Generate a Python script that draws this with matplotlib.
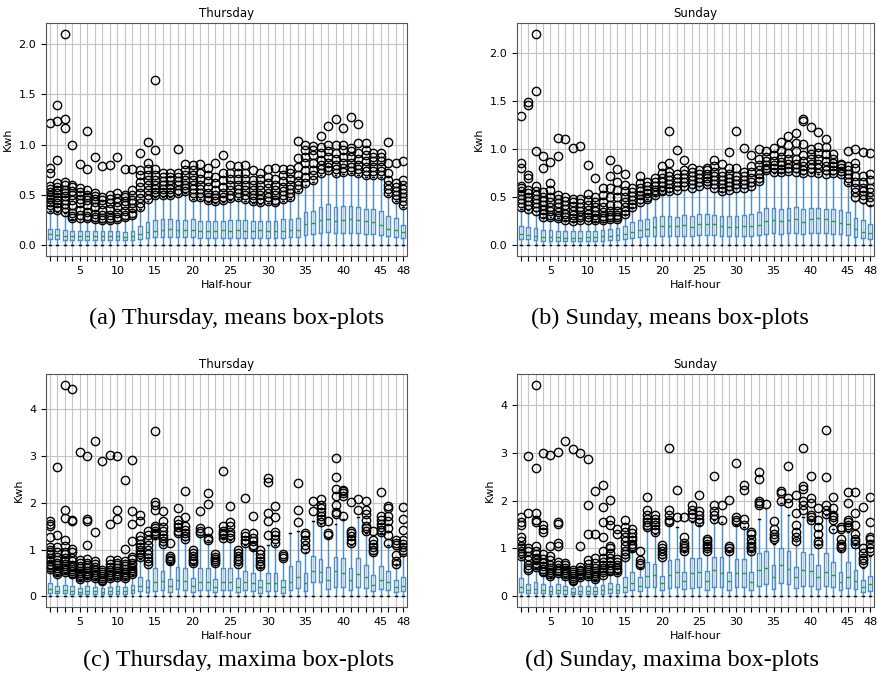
import matplotlib.pyplot as plt

hours = list(range(1, 49))
labeled_hours = [5, 10, 15, 20, 25, 30, 35, 40, 45, 48]

# (a) Thursday, means
a_q1 = [0.06,0.06,0.05,0.05,0.05,0.05,0.05,0.05,0.05,0.05,0.05,0.05,0.06,0.07,0.08,0.08,
        0.08,0.08,0.08,0.08,0.07,0.07,0.07,0.07,0.07,0.07,0.07,0.07,0.07,0.07,0.07,0.07,
        0.08,0.08,0.10,0.11,0.12,0.13,0.12,0.12,0.12,0.12,0.11,0.11,0.10,0.09,0.08,0.07]
a_med = [0.11,0.10,0.09,0.09,0.09,0.09,0.09,0.09,0.09,0.09,0.08,0.09,0.11,0.13,0.14,0.15,
         0.16,0.15,0.15,0.15,0.14,0.14,0.14,0.15,0.14,0.15,0.14,0.14,0.15,0.14,0.14,0.14,
         0.15,0.15,0.21,0.22,0.25,0.26,0.24,0.25,0.26,0.25,0.24,0.23,0.20,0.16,0.15,0.13]
a_q3 = [0.16,0.16,0.15,0.14,0.14,0.14,0.14,0.14,0.14,0.14,0.13,0.14,0.19,0.23,0.25,0.26,
        0.26,0.25,0.25,0.26,0.24,0.24,0.24,0.24,0.25,0.25,0.25,0.24,0.24,0.24,0.24,0.26,
        0.26,0.27,0.33,0.34,0.38,0.41,0.38,0.39,0.39,0.38,0.36,0.36,0.34,0.29,0.27,0.20]
a_whi = [0.34,0.33,0.32,0.26,0.26,0.25,0.24,0.23,0.23,0.24,0.26,0.28,0.36,0.44,0.48,0.48,
         0.48,0.50,0.52,0.46,0.46,0.43,0.42,0.43,0.45,0.46,0.44,0.42,0.41,0.42,0.41,0.44,
         0.46,0.54,0.60,0.63,0.70,0.74,0.70,0.71,0.72,0.70,0.68,0.68,0.68,0.50,0.44,0.38]
a_fliers = [
    [0.36,0.4,0.43,0.46,0.48,0.5,0.53,0.56,0.59,0.72,0.77,1.21],
    [0.35,0.38,0.42,0.45,0.48,0.52,0.55,0.58,0.62,0.85,1.23,1.39],
    [0.33,0.37,0.41,0.45,0.49,0.52,0.55,0.6,0.63,1.16,1.25,2.1],
    [0.27,0.29,0.32,0.4,0.45,0.5,0.54,0.58,0.6,1.0],
    [0.27,0.3,0.35,0.42,0.46,0.5,0.53,0.57,0.81],
    [0.27,0.29,0.33,0.4,0.45,0.48,0.5,0.55,0.76,1.13],
    [0.26,0.28,0.31,0.38,0.43,0.46,0.49,0.52,0.88],
    [0.25,0.27,0.3,0.35,0.41,0.45,0.48,0.79],
    [0.25,0.27,0.3,0.36,0.42,0.46,0.5,0.8],
    [0.26,0.28,0.32,0.38,0.43,0.47,0.52,0.88],
    [0.28,0.3,0.34,0.4,0.44,0.48,0.5,0.76],
    [0.3,0.32,0.37,0.42,0.45,0.5,0.55,0.76],
    [0.38,0.42,0.47,0.52,0.58,0.63,0.7,0.75,0.92],
    [0.46,0.5,0.55,0.6,0.65,0.7,0.76,0.82,1.03],
    [0.5,0.53,0.56,0.6,0.65,0.7,0.76,0.95,1.64],
    [0.5,0.53,0.56,0.6,0.64,0.68,0.72],
    [0.5,0.53,0.56,0.6,0.65,0.68,0.72],
    [0.52,0.55,0.6,0.64,0.68,0.72,0.96],
    [0.54,0.57,0.6,0.65,0.7,0.75,0.81],
    [0.48,0.52,0.56,0.6,0.65,0.7,0.75,0.8],
    [0.48,0.52,0.56,0.6,0.66,0.72,0.81],
    [0.45,0.48,0.52,0.58,0.64,0.7,0.77],
    [0.44,0.47,0.5,0.55,0.62,0.68,0.82],
    [0.45,0.48,0.52,0.58,0.65,0.72,0.9],
    [0.47,0.5,0.55,0.6,0.66,0.72,0.8],
    [0.48,0.52,0.56,0.6,0.66,0.72,0.79],
    [0.46,0.5,0.55,0.6,0.66,0.72,0.8],
    [0.44,0.47,0.5,0.55,0.6,0.65,0.75],
    [0.43,0.46,0.5,0.55,0.6,0.66,0.72],
    [0.44,0.48,0.52,0.57,0.62,0.68,0.76],
    [0.43,0.45,0.5,0.55,0.6,0.66,0.77],
    [0.46,0.5,0.54,0.58,0.64,0.7,0.76],
    [0.48,0.52,0.56,0.6,0.66,0.72,0.76],
    [0.56,0.6,0.64,0.7,0.78,0.87,1.04],
    [0.62,0.68,0.75,0.82,0.88,0.95,1.0],
    [0.65,0.7,0.75,0.82,0.9,0.95,0.99],
    [0.72,0.76,0.8,0.85,0.92,0.98,1.08],
    [0.75,0.78,0.82,0.88,0.94,1.0,1.18],
    [0.72,0.76,0.8,0.86,0.92,1.0,1.25],
    [0.73,0.77,0.82,0.88,0.95,1.0,1.16],
    [0.74,0.78,0.82,0.88,0.94,0.97,1.27],
    [0.72,0.76,0.8,0.86,0.92,1.02,1.2],
    [0.7,0.74,0.78,0.84,0.9,0.95,1.02],
    [0.7,0.74,0.78,0.84,0.88,0.92],
    [0.7,0.74,0.78,0.84,0.88,0.92],
    [0.52,0.56,0.6,0.65,0.72,0.82,1.03],
    [0.46,0.5,0.54,0.58,0.62,0.82],
    [0.4,0.44,0.48,0.52,0.56,0.6,0.65,0.84],
]

# (b) Sunday, means
b_q1 = [0.07,0.07,0.06,0.05,0.05,0.05,0.05,0.05,0.05,0.05,0.05,0.05,0.06,0.06,0.07,0.08,
        0.09,0.10,0.10,0.10,0.10,0.10,0.10,0.10,0.11,0.11,0.11,0.10,0.10,0.10,0.10,0.10,
        0.11,0.12,0.13,0.12,0.13,0.13,0.12,0.13,0.13,0.13,0.12,0.12,0.11,0.09,0.08,0.07]
b_med = [0.12,0.11,0.10,0.09,0.09,0.09,0.08,0.08,0.08,0.09,0.09,0.10,0.10,0.11,0.12,0.14,
         0.16,0.17,0.19,0.20,0.20,0.20,0.21,0.19,0.22,0.22,0.22,0.20,0.19,0.19,0.20,0.20,
         0.21,0.25,0.26,0.25,0.26,0.27,0.24,0.27,0.28,0.27,0.25,0.23,0.22,0.17,0.14,0.13]
b_q3 = [0.20,0.19,0.18,0.16,0.16,0.15,0.15,0.15,0.15,0.15,0.15,0.16,0.17,0.18,0.20,0.24,
        0.26,0.27,0.29,0.31,0.31,0.30,0.32,0.31,0.33,0.33,0.32,0.31,0.31,0.31,0.32,0.33,
        0.35,0.39,0.39,0.38,0.39,0.40,0.38,0.39,0.39,0.38,0.38,0.37,0.35,0.28,0.26,0.22]
b_whi = [0.38,0.37,0.36,0.30,0.29,0.28,0.26,0.25,0.25,0.25,0.25,0.26,0.27,0.27,0.33,0.40,
         0.44,0.48,0.52,0.56,0.56,0.58,0.62,0.60,0.62,0.63,0.60,0.56,0.58,0.60,0.60,0.62,
         0.66,0.76,0.75,0.76,0.76,0.76,0.74,0.75,0.74,0.74,0.74,0.73,0.64,0.46,0.44,0.42]
b_fliers = [
    [0.4,0.44,0.48,0.52,0.56,0.6,0.62,0.8,0.86,1.34],
    [0.38,0.42,0.46,0.5,0.54,0.58,0.7,0.73,1.46,1.49],
    [0.36,0.4,0.44,0.48,0.52,0.56,0.62,0.98,1.6,2.2],
    [0.3,0.33,0.37,0.42,0.46,0.5,0.55,0.8,0.93],
    [0.29,0.32,0.36,0.4,0.45,0.5,0.58,0.65,0.87],
    [0.28,0.31,0.35,0.4,0.44,0.48,0.52,0.93,1.12],
    [0.26,0.29,0.33,0.38,0.42,0.46,0.5,1.11],
    [0.25,0.28,0.32,0.36,0.41,0.45,0.48,1.01],
    [0.26,0.29,0.32,0.36,0.4,0.44,0.48,1.03],
    [0.26,0.29,0.33,0.37,0.42,0.47,0.53,0.84],
    [0.26,0.28,0.32,0.36,0.4,0.45,0.5,0.7],
    [0.26,0.28,0.31,0.35,0.4,0.45,0.52,0.6],
    [0.27,0.29,0.32,0.36,0.42,0.5,0.6,0.72,0.89],
    [0.27,0.29,0.32,0.36,0.42,0.5,0.58,0.66,0.79],
    [0.33,0.36,0.4,0.45,0.5,0.56,0.63,0.74],
    [0.4,0.43,0.47,0.51,0.55,0.6],
    [0.45,0.48,0.52,0.56,0.6,0.65,0.72],
    [0.48,0.5,0.54,0.58,0.62,0.66],
    [0.52,0.55,0.58,0.62,0.66,0.7],
    [0.56,0.58,0.62,0.66,0.7,0.75,0.82],
    [0.56,0.6,0.64,0.68,0.72,0.76,0.86,1.19],
    [0.58,0.62,0.66,0.7,0.74,0.99],
    [0.62,0.66,0.7,0.74,0.78,0.89],
    [0.6,0.64,0.68,0.72,0.76,0.8],
    [0.62,0.66,0.7,0.74,0.78],
    [0.64,0.67,0.7,0.74,0.78,0.8],
    [0.6,0.64,0.68,0.72,0.76,0.82,0.89],
    [0.56,0.6,0.64,0.68,0.72,0.76,0.85],
    [0.58,0.62,0.66,0.7,0.74,0.8,0.97],
    [0.6,0.64,0.68,0.72,0.8,1.19],
    [0.6,0.64,0.68,0.72,0.76,1.01],
    [0.62,0.66,0.7,0.76,0.82,0.94],
    [0.67,0.7,0.74,0.78,0.84,0.9,1.0],
    [0.78,0.8,0.84,0.88,0.92,0.98],
    [0.76,0.8,0.84,0.88,0.94,1.01],
    [0.76,0.79,0.83,0.87,0.92,0.98,1.07],
    [0.77,0.8,0.85,0.9,0.96,1.04,1.14],
    [0.76,0.8,0.85,0.9,0.98,1.06,1.17],
    [0.75,0.78,0.82,0.88,0.94,1.05,1.29,1.31],
    [0.76,0.8,0.85,0.9,0.95,1.0,1.23],
    [0.75,0.8,0.85,0.9,0.96,1.02,1.18],
    [0.74,0.78,0.82,0.88,0.95,1.02,1.1],
    [0.75,0.78,0.82,0.86,0.9,0.95],
    [0.74,0.77,0.8,0.84,0.85],
    [0.66,0.7,0.74,0.78,0.82,0.98],
    [0.5,0.55,0.6,0.66,0.72,0.8,0.86,1.0],
    [0.48,0.52,0.56,0.6,0.66,0.72,0.97],
    [0.45,0.5,0.55,0.6,0.68,0.74,0.96],
]

# (c) Thursday, maxima
c_q1 = [0.08,0.07,0.07,0.06,0.06,0.06,0.06,0.05,0.06,0.06,0.06,0.07,0.12,0.10,0.12,0.14,
        0.10,0.15,0.14,0.10,0.14,0.14,0.10,0.14,0.14,0.10,0.14,0.12,0.08,0.12,0.12,0.08,
        0.14,0.18,0.12,0.30,0.30,0.16,0.20,0.20,0.14,0.20,0.18,0.12,0.16,0.14,0.10,0.12]
c_med = [0.15,0.12,0.14,0.12,0.10,0.12,0.11,0.09,0.11,0.12,0.11,0.13,0.22,0.20,0.30,0.32,
         0.22,0.35,0.32,0.22,0.30,0.30,0.20,0.30,0.30,0.20,0.30,0.28,0.20,0.28,0.28,0.20,
         0.30,0.42,0.28,0.55,0.52,0.35,0.55,0.50,0.35,0.48,0.42,0.25,0.35,0.30,0.20,0.22]
c_q3 = [0.28,0.22,0.25,0.22,0.18,0.22,0.20,0.17,0.20,0.22,0.20,0.25,0.42,0.35,0.60,0.55,
        0.38,0.62,0.60,0.40,0.60,0.60,0.38,0.60,0.60,0.40,0.55,0.50,0.35,0.50,0.50,0.35,
        0.65,0.75,0.50,0.86,0.80,0.62,0.85,0.82,0.60,0.82,0.68,0.45,0.65,0.55,0.35,0.42]
c_whi = [0.55,0.45,0.50,0.45,0.36,0.40,0.38,0.30,0.38,0.40,0.38,0.46,0.80,0.68,1.25,1.10,
         0.72,1.30,1.20,0.70,1.30,1.20,0.68,1.25,1.20,0.68,1.10,1.00,0.62,1.10,1.10,0.78,
         1.35,1.40,0.95,1.60,1.55,1.25,1.55,1.65,1.10,1.70,1.35,0.90,1.35,1.10,0.70,0.90]
c_fliers = [
    [0.58,0.62,0.66,0.7,0.75,0.82,0.9,0.95,1.0,1.05,1.27,1.5,1.55,1.6],
    [0.48,0.52,0.56,0.6,0.66,0.72,0.78,0.85,0.95,1.05,1.3,2.77],
    [0.52,0.56,0.6,0.65,0.7,0.76,0.82,0.9,0.95,1.08,1.2,1.68,1.85,4.52],
    [0.47,0.5,0.54,0.58,0.62,0.68,0.75,0.82,0.95,1.02,1.6,1.63,4.42],
    [0.38,0.42,0.46,0.5,0.55,0.6,0.65,0.72,0.78,3.09],
    [0.42,0.46,0.5,0.55,0.6,0.66,0.72,0.8,1.1,1.6,1.65,3.0],
    [0.4,0.44,0.48,0.52,0.56,0.62,0.7,0.76,1.38,3.32],
    [0.32,0.36,0.4,0.44,0.48,0.52,0.56,2.9],
    [0.4,0.44,0.48,0.52,0.56,0.62,0.7,0.78,1.54,3.02],
    [0.42,0.46,0.5,0.55,0.6,0.66,0.72,0.78,1.66,1.84,3.0],
    [0.4,0.44,0.48,0.52,0.58,0.64,0.7,0.76,1.02,2.48],
    [0.48,0.52,0.56,0.6,0.66,0.72,0.8,0.85,1.18,1.55,1.82,2.92],
    [0.85,0.9,0.95,1.0,1.05,1.12,1.2,1.28,1.6,1.73],
    [0.7,0.75,0.82,0.9,1.0,1.1,1.2,1.3,1.4],
    [1.3,1.35,1.4,1.45,1.5,1.85,1.95,2.02,3.52],
    [1.12,1.18,1.25,1.32,1.4,1.48,1.6,1.83],
    [0.75,0.78,0.82,0.86,1.13],
    [1.35,1.4,1.48,1.55,1.62,1.88],
    [1.22,1.28,1.35,1.42,1.5,1.7,2.25],
    [0.72,0.76,0.8,0.86,0.92,1.0],
    [1.35,1.4,1.45,1.83],
    [1.2,1.25,1.4,1.97,2.21],
    [0.72,0.76,0.8,0.85,0.9],
    [1.25,1.3,1.35,1.4,1.5,2.67],
    [1.25,1.3,1.38,1.5,1.58,1.93],
    [0.7,0.75,0.8,0.86,0.92,1.0],
    [1.15,1.2,1.28,1.35,2.1],
    [1.05,1.1,1.18,1.25,1.35,1.72],
    [0.65,0.7,0.76,0.82,0.9,1.0],
    [1.32,1.6,1.78,2.45,2.52],
    [1.15,1.22,1.3,1.38,1.7,1.93],
    [0.83,0.86,0.9],
    [],
    [1.58,1.85,2.42],
    [1.02,1.1,1.2,1.3,1.35],
    [1.82,2.04],
    [1.58,1.65,1.72,1.8,1.88,1.95,2.07],
    [1.3,1.35,1.6],
    [1.75,1.8,1.95,2.15,2.3,2.55,2.96],
    [1.72,2.15,2.2,2.25,2.28],
    [1.15,1.2,1.28,1.35,1.4,2.02],
    [1.85,2.07],
    [1.4,1.45,1.5,1.62,1.75,1.85,2.04],
    [0.95,1.0,1.05,1.12,1.2,1.4],
    [1.38,1.42,1.48,1.55,1.62,1.72,2.23],
    [1.15,1.3,1.45,1.6,1.72,1.88,1.93],
    [0.7,0.75,0.88,1.1,1.15,1.2],
    [0.95,1.0,1.05,1.12,1.2,1.42,1.65,1.9],
]

# (d) Sunday, maxima
d_q1 = [0.10,0.07,0.08,0.07,0.06,0.07,0.06,0.05,0.06,0.06,0.05,0.06,0.07,0.07,0.10,0.14,
        0.12,0.20,0.20,0.14,0.18,0.20,0.15,0.18,0.20,0.14,0.20,0.20,0.14,0.20,0.20,0.14,
        0.22,0.25,0.16,0.28,0.25,0.18,0.22,0.22,0.16,0.22,0.20,0.14,0.18,0.16,0.10,0.12]
d_med = [0.20,0.13,0.16,0.14,0.12,0.14,0.13,0.10,0.12,0.12,0.11,0.13,0.15,0.14,0.20,0.28,
         0.22,0.42,0.45,0.28,0.45,0.50,0.32,0.48,0.50,0.32,0.55,0.48,0.32,0.48,0.48,0.30,
         0.55,0.60,0.40,0.65,0.58,0.40,0.55,0.52,0.40,0.50,0.45,0.30,0.40,0.32,0.20,0.25]
d_q3 = [0.38,0.25,0.30,0.25,0.22,0.25,0.22,0.18,0.22,0.22,0.20,0.24,0.28,0.26,0.40,0.50,
        0.40,0.72,0.68,0.42,0.75,0.78,0.50,0.80,0.80,0.52,0.82,0.82,0.50,0.78,0.78,0.50,
        0.90,0.95,0.65,1.00,0.95,0.62,0.92,0.88,0.65,0.90,0.72,0.50,0.72,0.55,0.35,0.42]
d_whi = [0.80,0.50,0.60,0.48,0.40,0.45,0.40,0.30,0.38,0.40,0.35,0.42,0.50,0.48,0.80,0.95,
         0.60,1.40,1.30,0.80,1.50,1.45,0.95,1.55,1.50,1.00,1.60,1.55,0.95,1.50,1.45,0.95,
         1.62,1.85,1.10,1.95,1.70,1.20,1.65,1.60,1.10,1.70,1.40,0.95,1.35,1.10,0.60,0.85]
d_fliers = [
    [0.85,0.9,0.95,1.0,1.05,1.15,1.25,1.5,1.55,1.65],
    [0.55,0.6,0.65,0.75,0.85,0.95,1.0,1.75,2.92],
    [0.62,0.66,0.7,0.75,0.8,0.88,0.95,1.05,1.55,1.6,1.75,2.68,4.42],
    [0.5,0.54,0.58,0.63,0.7,0.78,0.88,1.35,1.4,1.5,3.0],
    [0.42,0.46,0.5,0.55,0.6,0.65,0.75,0.85,1.05,2.95],
    [0.48,0.52,0.56,0.6,0.66,0.72,1.05,1.12,1.52,1.55,3.02],
    [0.42,0.46,0.5,0.55,0.6,0.66,0.7,3.25],
    [0.32,0.35,0.38,0.42,0.46,0.5,0.55,3.07],
    [0.4,0.44,0.48,0.52,0.56,0.62,1.05,3.0],
    [0.42,0.46,0.5,0.55,0.6,0.68,0.75,1.3,1.9,2.87],
    [0.36,0.4,0.44,0.48,0.54,0.6,0.7,0.8,1.3,2.2],
    [0.45,0.5,0.55,0.6,0.66,0.72,0.8,0.95,1.25,1.55,1.87,2.33],
    [0.52,0.56,0.6,0.66,0.72,0.8,0.9,1.0,1.05,1.5,1.6,2.02],
    [0.5,0.55,0.6,0.66,0.72,0.78,1.3,1.4],
    [0.82,0.88,0.95,1.05,1.15,1.25,1.35,1.45,1.6],
    [1.0,1.05,1.1,1.18,1.25,1.32,1.4],
    [0.65,0.7,0.75,0.95],
    [1.45,1.5,1.55,1.62,1.7,1.8,2.08],
    [1.35,1.4,1.48,1.55,1.62,1.7],
    [0.82,0.88,0.95,1.02,1.08],
    [1.55,1.6,1.7,1.8,3.1],
    [1.65,2.22],
    [0.95,1.0,1.05,1.12,1.25,1.65],
    [1.65,1.72,1.8,1.9],
    [1.55,1.62,1.7,1.78,2.12],
    [0.95,1.0,1.05,1.1,1.15,1.2],
    [1.62,1.7,1.78,1.9,2.52],
    [1.6,1.9],
    [0.95,1.0,1.05,2.02],
    [1.55,1.6,1.65,2.78],
    [1.5,1.62,2.22,2.32],
    [0.95,1.0,1.05,1.12,1.2,1.3,1.35],
    [1.9,1.95,2.0,2.45,2.6],
    [1.93],
    [1.2,1.25,1.3,1.4,1.57],
    [2.0,2.15,2.2],
    [1.95,2.05,2.72],
    [1.15,1.25,1.35,1.5,1.75,2.12],
    [1.8,1.9,2.0,2.25,2.3,3.1],
    [1.6,1.65,1.7,1.95,2.05,2.52],
    [1.1,1.15,1.3,1.45,1.6,1.85],
    [1.72,1.8,1.9,2.5,3.48],
    [1.4,1.6,1.65,1.7,1.85,2.08],
    [1.0,1.05,1.1,1.2,1.4,1.45],
    [1.45,1.5,1.55,1.6,1.95,2.18],
    [1.1,1.15,1.2,1.3,1.5,1.75,2.18],
    [0.7,0.75,0.8,0.9,1.0,1.87],
    [0.95,1.0,1.1,1.2,1.25,1.55,2.08],
]

whisker_low = 0.0


def draw(ax, title, q1, med, q3, whi, fliers):
    stats = []
    for i in range(len(hours)):
        stats.append(dict(q1=q1[i], med=med[i], q3=q3[i], whislo=whisker_low,
                          whishi=whi[i], fliers=fliers[i]))
    ax.bxp(stats, positions=hours, widths=0.5, manage_ticks=False,
           boxprops=dict(color='#4a90d0'), whiskerprops=dict(color='#4a90d0'),
           capprops=dict(color='k'), medianprops=dict(color='#2ca02c'),
           flierprops=dict(marker='o', markerfacecolor='none', markeredgecolor='k'))
    ax.set_xlim(0.5, 48.5)
    ax.set_xticks(hours)
    ax.set_xticklabels([str(h) if h in labeled_hours else '' for h in hours])
    ax.grid(True, color='#c4c4c4')
    ax.set_axisbelow(True)
    ax.set_title(title, fontsize=8.5, pad=4)
    ax.set_xlabel('Half-hour', fontsize=8, labelpad=3)
    ax.set_ylabel('Kwh', fontsize=8)
    ax.tick_params(labelsize=8)
    for s in ax.spines.values():
        s.set_color('#555555')


fig = plt.figure(figsize=(8.78, 6.78), dpi=100)
w, h = 361 / 878, 233 / 678
w_right = 357 / 878
ax_a = fig.add_axes([46 / 878, 1 - 256 / 678, w, h])
ax_b = fig.add_axes([517 / 878, 1 - 256 / 678, w_right, h])
ax_c = fig.add_axes([46 / 878, 1 - 607 / 678, w, h])
ax_d = fig.add_axes([517 / 878, 1 - 607 / 678, w_right, h])

draw(ax_a, 'Thursday', a_q1, a_med, a_q3, a_whi, a_fliers)
draw(ax_b, 'Sunday', b_q1, b_med, b_q3, b_whi, b_fliers)
draw(ax_c, 'Thursday', c_q1, c_med, c_q3, c_whi, c_fliers)
draw(ax_d, 'Sunday', d_q1, d_med, d_q3, d_whi, d_fliers)

serif = dict(family='Liberation Serif', fontsize=17.5, ha='center', va='center')
fig.text(237 / 878, 1 - 318 / 678, '(a) Thursday, means box-plots', **serif)
fig.text(670 / 878, 1 - 318 / 678, '(b) Sunday, means box-plots', **serif)
fig.text(239 / 878, 1 - 660 / 678, '(c) Thursday, maxima box-plots', **serif)
fig.text(672 / 878, 1 - 660 / 678, '(d) Sunday, maxima box-plots', **serif)

fig.savefig('out.png', dpi=100)
